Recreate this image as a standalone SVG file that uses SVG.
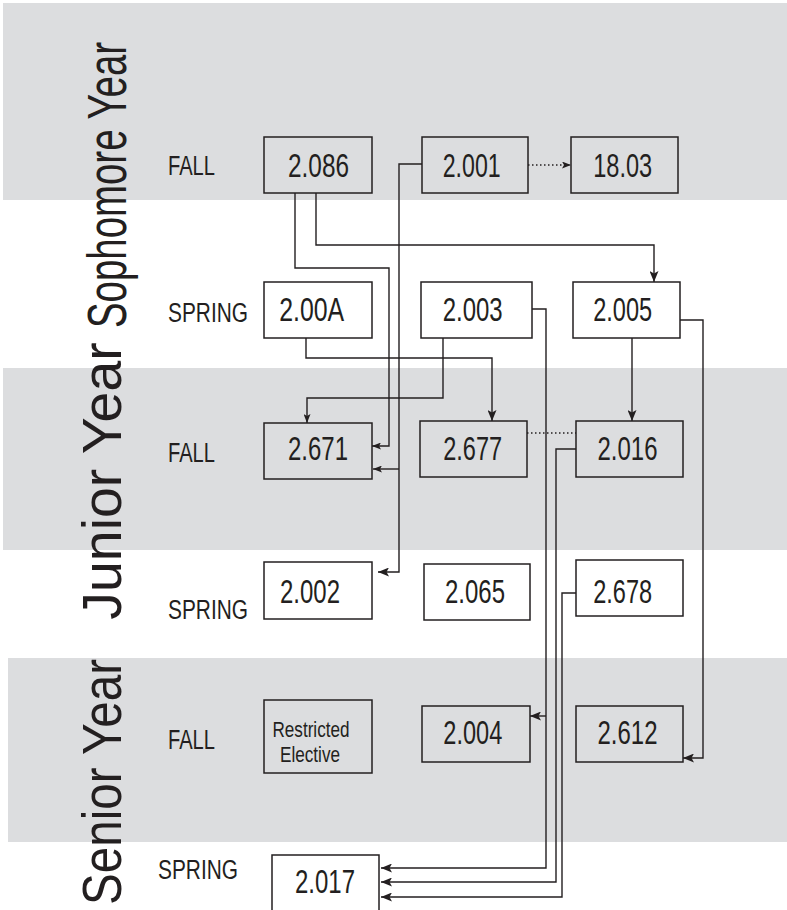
<svg xmlns="http://www.w3.org/2000/svg" width="787" height="910" viewBox="0 0 787 910">
<defs>
<marker id="ah" markerUnits="userSpaceOnUse" markerWidth="11" markerHeight="9" refX="11" refY="4.5" orient="auto">
<path d="M0,0 L11,4.5 L0,9 L2.5,4.5 z" fill="#231f20"/>
</marker>
<marker id="ahs" markerUnits="userSpaceOnUse" markerWidth="9" markerHeight="7" refX="9" refY="3.5" orient="auto">
<path d="M0,0 L9,3.5 L0,7 L2,3.5 z" fill="#231f20"/>
</marker>
</defs>
<style>
.band{fill:#dcdddf}
.box{fill:none;stroke:#231f20;stroke-width:1.5}
.t{font-family:"Liberation Sans",Arial,sans-serif;fill:#231f20}
.code{font-size:33px;text-anchor:middle}
.lbl{font-size:27px}
.yr{font-size:56px;text-anchor:middle}
.re{font-size:22px;text-anchor:middle}
.c{fill:none;stroke:#231f20;stroke-width:1.4}
.dot{fill:none;stroke:#231f20;stroke-width:1.4;stroke-dasharray:1.5 2.5}
</style>
<rect width="787" height="910" fill="#ffffff"/>
<g id="bands">
<rect class="band" x="3" y="3" width="784" height="197"/>
<rect class="band" x="3" y="368" width="784" height="182"/>
<rect class="band" x="8" y="658" width="779" height="184"/>
</g>
<g id="year-labels">
<text class="t yr" transform="translate(126,185) rotate(-90) scale(0.686,1)">Sophomore Year</text>
<text class="t yr" transform="translate(121,481) rotate(-90) scale(0.99,1)">Junior Year</text>
<text class="t yr" transform="translate(121,782) rotate(-90) scale(0.85,1)">Senior Year</text>
</g>
<g id="term-labels">
<text class="t lbl" x="168" y="175" textLength="47" lengthAdjust="spacingAndGlyphs">FALL</text>
<text class="t lbl" x="168" y="322" textLength="80" lengthAdjust="spacingAndGlyphs">SPRING</text>
<text class="t lbl" x="168" y="462" textLength="47" lengthAdjust="spacingAndGlyphs">FALL</text>
<text class="t lbl" x="168" y="619" textLength="80" lengthAdjust="spacingAndGlyphs">SPRING</text>
<text class="t lbl" x="168" y="749" textLength="47" lengthAdjust="spacingAndGlyphs">FALL</text>
<text class="t lbl" x="158" y="879" textLength="80" lengthAdjust="spacingAndGlyphs">SPRING</text>
</g>
<g id="connectors">
<path class="c" d="M295,193 V268 H389 V446 H372" marker-end="url(#ahs)"/>
<path class="c" d="M316,193 V245 H654 V282" marker-end="url(#ah)"/>
<path class="c" d="M422,164 H399 V572 H378" marker-end="url(#ah)"/>
<path class="c" d="M399,469 H373" marker-end="url(#ahs)"/>
<path class="dot" d="M528,165 H571" marker-end="url(#ahs)"/>
<path class="c" d="M306,338 V358 H492 V421" marker-end="url(#ah)"/>
<path class="c" d="M443,338 V398 H307 V423" marker-end="url(#ahs)"/>
<path class="c" d="M532,309 H546 V868 H381" marker-end="url(#ah)"/>
<path class="c" d="M546,716 H530" marker-end="url(#ah)"/>
<path class="c" d="M632,338 V421" marker-end="url(#ah)"/>
<path class="c" d="M680,320 H703 V758 H683" marker-end="url(#ah)"/>
<path class="dot" d="M527,433 H576"/>
<path class="c" d="M576,449 H556 V882 H381" marker-end="url(#ah)"/>
<path class="c" d="M576,593 H562 V897 H381" marker-end="url(#ah)"/>
</g>
<g id="n2086"><rect class="box" x="264" y="137" width="108" height="56"/><text class="t code" x="318.5" y="177" textLength="61" lengthAdjust="spacingAndGlyphs">2.086</text></g>
<g id="n2001"><rect class="box" x="422" y="137" width="106" height="56"/><text class="t code" x="471.7" y="177" textLength="58" lengthAdjust="spacingAndGlyphs">2.001</text></g>
<g id="n1803"><rect class="box" x="571" y="137" width="107" height="56"/><text class="t code" x="622.7" y="177" textLength="59" lengthAdjust="spacingAndGlyphs">18.03</text></g>
<g id="n200A"><rect class="box" x="264" y="282" width="108" height="56"/><text class="t code" x="311.7" y="320.7" textLength="65" lengthAdjust="spacingAndGlyphs">2.00A</text></g>
<g id="n2003"><rect class="box" x="421" y="282" width="111" height="56"/><text class="t code" x="472.7" y="320.7" textLength="60" lengthAdjust="spacingAndGlyphs">2.003</text></g>
<g id="n2005"><rect class="box" x="573" y="282" width="107" height="56"/><text class="t code" x="622.7" y="320.7" textLength="59" lengthAdjust="spacingAndGlyphs">2.005</text></g>
<g id="n2671"><rect class="box" x="264" y="423" width="108" height="56"/><text class="t code" x="318" y="460" textLength="60" lengthAdjust="spacingAndGlyphs">2.671</text></g>
<g id="n2677"><rect class="box" x="420" y="421" width="107" height="56"/><text class="t code" x="472.7" y="460" textLength="59" lengthAdjust="spacingAndGlyphs">2.677</text></g>
<g id="n2016"><rect class="box" x="576" y="421" width="107" height="56"/><text class="t code" x="627.5" y="460" textLength="60" lengthAdjust="spacingAndGlyphs">2.016</text></g>
<g id="n2002"><rect class="box" x="264" y="562" width="108" height="57"/><text class="t code" x="310" y="603.3" textLength="60" lengthAdjust="spacingAndGlyphs">2.002</text></g>
<g id="n2065"><rect class="box" x="424" y="564" width="106" height="56"/><text class="t code" x="475" y="603.3" textLength="60" lengthAdjust="spacingAndGlyphs">2.065</text></g>
<g id="n2678"><rect class="box" x="576" y="560" width="107" height="56"/><text class="t code" x="622.7" y="603.3" textLength="59" lengthAdjust="spacingAndGlyphs">2.678</text></g>
<g id="nRestrictedElective"><rect class="box" x="264" y="700" width="108" height="73"/><text class="t re" x="311" y="737" textLength="77" lengthAdjust="spacingAndGlyphs">Restricted</text><text class="t re" x="310" y="761.7" textLength="60" lengthAdjust="spacingAndGlyphs">Elective</text></g>
<g id="n2004"><rect class="box" x="422" y="706" width="108" height="56"/><text class="t code" x="472.8" y="744.3" textLength="59" lengthAdjust="spacingAndGlyphs">2.004</text></g>
<g id="n2612"><rect class="box" x="576" y="706" width="107" height="56"/><text class="t code" x="627.5" y="744.3" textLength="60" lengthAdjust="spacingAndGlyphs">2.612</text></g>
<g id="n2017"><rect class="box" x="272" y="855" width="107" height="60"/><text class="t code" x="325" y="893" textLength="60" lengthAdjust="spacingAndGlyphs">2.017</text></g>
</svg>
